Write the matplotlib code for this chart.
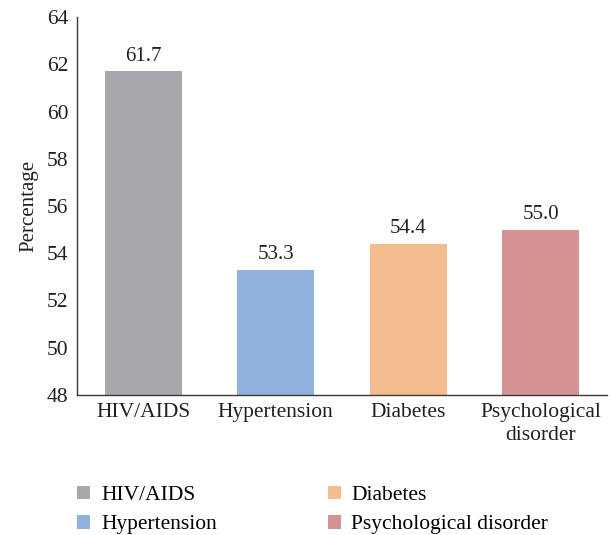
import matplotlib.pyplot as plt
from matplotlib.patches import Patch

plt.rcParams['font.family'] = ['Liberation Serif', 'DejaVu Serif']

categories = ["HIV/AIDS", "Hypertension", "Diabetes", "Psychological\ndisorder"]
legend_names = ["HIV/AIDS", "Hypertension", "Diabetes", "Psychological disorder"]
values = [61.7, 53.3, 54.4, 55.0]
colors = ["#a7a8ab", "#8fb1dc", "#f4bd8f", "#d49493"]

fig = plt.figure(figsize=(6.1, 5.35), dpi=100)
ax = fig.add_axes([0.126, 0.262, 0.869, 0.706])

x = range(len(values))
bars = ax.bar(x, values, width=0.58, color=colors)
for b, v in zip(bars, values):
    ax.text(b.get_x() + b.get_width() / 2, v + 0.25, f"{v:.1f}",
            ha="center", va="bottom", fontsize=15, color="#231f20")

ax.set_ylim(48, 64)
ax.set_xlim(-0.5, 3.5)
ax.set_yticks(range(48, 65, 2))
ax.set_xticks(list(x))
ax.set_xticklabels(categories, fontsize=15.5, color="#231f20", linespacing=1.3)
ax.tick_params(axis="y", labelsize=15.5, labelcolor="#231f20", length=0, pad=6)
ax.tick_params(axis="x", length=0, pad=6)
ax.set_ylabel("Percentage", fontsize=15, color="#231f20", labelpad=6)

for s in ["top", "right"]:
    ax.spines[s].set_visible(False)
for s in ["left", "bottom"]:
    ax.spines[s].set_color("#3a3a3a")
    ax.spines[s].set_linewidth(1.0)

handles = [Patch(facecolor=c, label=n) for c, n in zip(colors, legend_names)]
fig.legend(handles=handles, loc="lower left", bbox_to_anchor=(0.095, -0.035),
           ncol=2, frameon=False, fontsize=15.5, handlelength=0.6, handleheight=0.6,
           columnspacing=5.15, labelspacing=0.45, handletextpad=0.5)

fig.savefig("out.png", dpi=100)
